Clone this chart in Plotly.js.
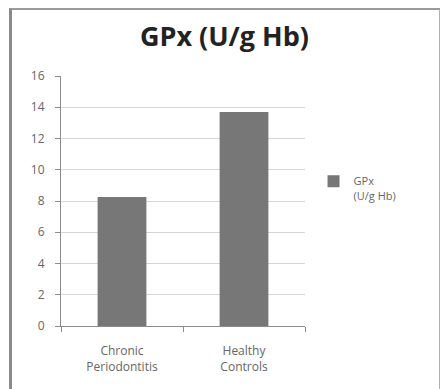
<!DOCTYPE html>
<html><head><meta charset="utf-8">
<script src="https://cdn.plot.ly/plotly-3.0.1.min.js"></script>
<style>
html,body{margin:0;padding:0;background:#fff;}
#wrap{position:relative;width:440px;height:389px;}
#chart{position:absolute;left:0;top:0;width:440px;height:389px;}
#frame{position:absolute;left:9px;top:8px;width:427px;height:390px;border-top:2px solid #9a9a9a;border-left:3px solid #8a8a8a;border-right:2px solid #b0b0b0;pointer-events:none;}
</style></head>
<body><div id="wrap"><div id="chart"></div><div id="frame"></div></div>
<script>
const categories = ["Chronic<br>Periodontitis", "Healthy<br>Controls"];
const values = [8.25, 13.7];
const seriesName = "GPx<br>(U/g Hb)";
const yTicks = [0, 2, 4, 6, 8, 10, 12, 14, 16];

const trace = {
  type: 'bar', x: categories, y: values, name: seriesName,
  marker: {color: '#777777'}, showlegend: true
};
const layout = {
  width: 440, height: 389,
  margin: {l: 61, r: 135, t: 76, b: 63},
  paper_bgcolor: '#fff', plot_bgcolor: '#fff',
  title: {text: '<b>GPx (U/g Hb)</b>', x: 0.51, xanchor: 'center', y: 0.905, yanchor: 'middle',
          font: {family: 'Open Sans, sans-serif', size: 27, color: '#222'}},
  bargap: 0.6,
  font: {family: 'Open Sans, sans-serif', color: '#666'},
  xaxis: {
    showline: true, linecolor: '#8c8c8c', linewidth: 1,
    ticks: 'outside', ticklen: 5, tickcolor: '#8c8c8c',
    tickson: 'boundaries', showgrid: false, ticklabelstandoff: 14,
    tickfont: {size: 12, color: '#666'}
  },
  yaxis: {
    range: [0, 16], tickvals: yTicks, ticktext: yTicks.map(String),
    showline: true, linecolor: '#8c8c8c', linewidth: 1,
    ticks: 'outside', ticklen: 5, tickcolor: '#8c8c8c',
    showgrid: true, gridcolor: '#d6d6d6', gridwidth: 1,
    zeroline: false, ticklabelstandoff: 8,
    tickfont: {size: 12, color: '#666'}
  },
  legend: {x: 1.035, xanchor: 'left', y: 0.55, yanchor: 'middle', valign: 'top',
           font: {size: 11, color: '#666'}, itemwidth: 30, bgcolor: 'rgba(0,0,0,0)'},
  showlegend: true
};
Plotly.newPlot('chart', [trace], layout, {displayModeBar: false, staticPlot: true});
</script></body></html>
